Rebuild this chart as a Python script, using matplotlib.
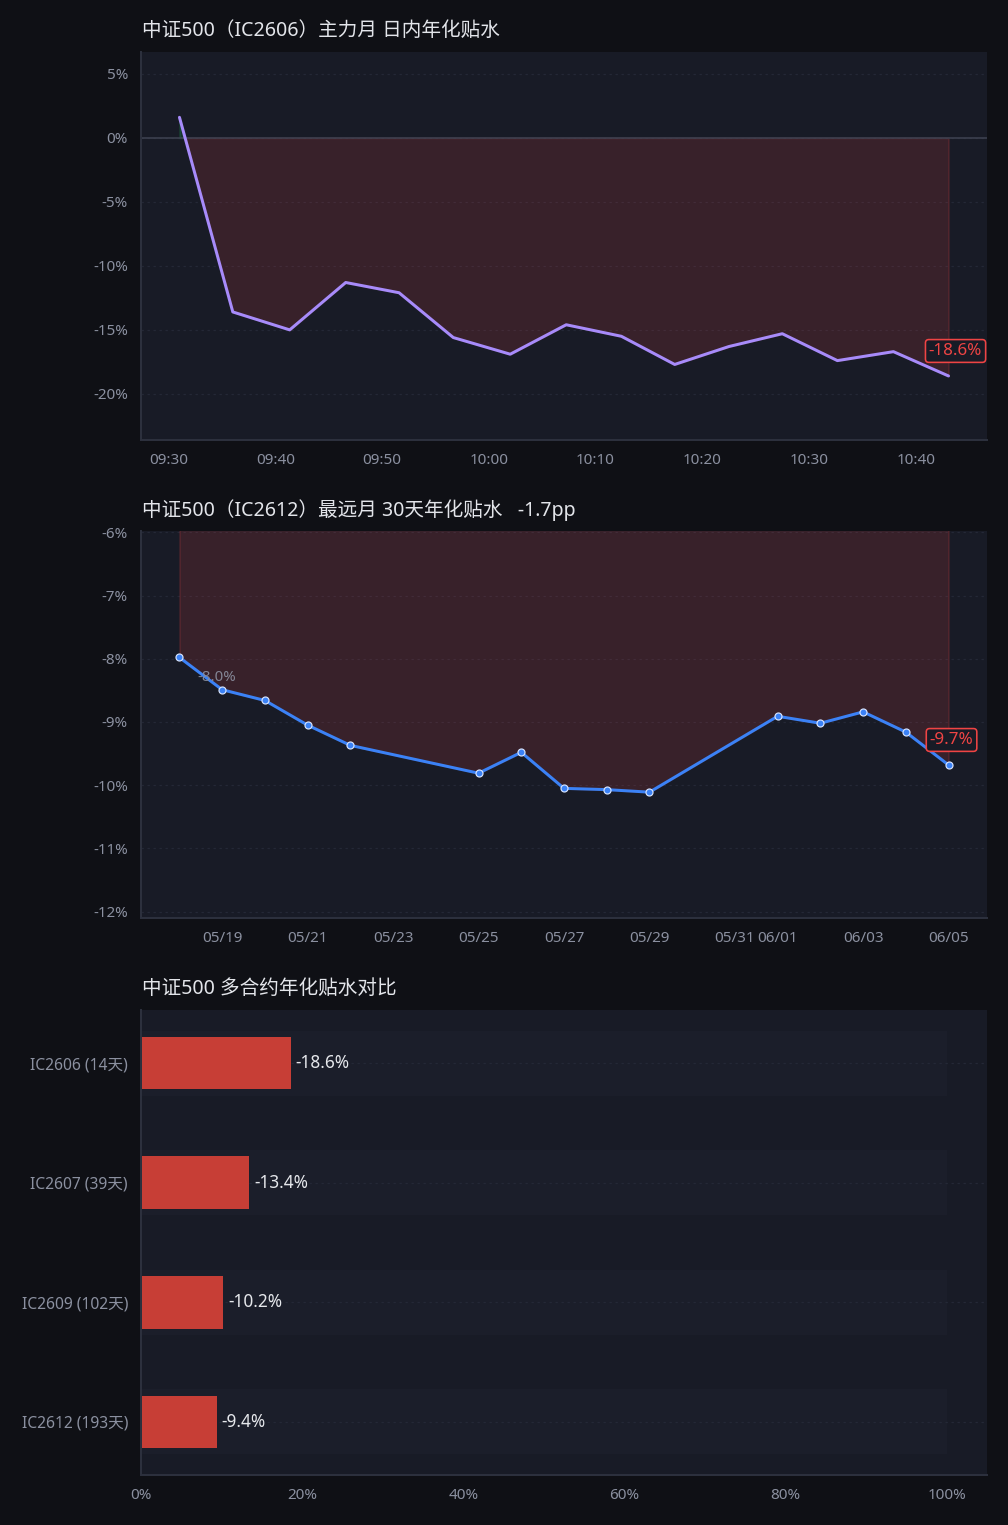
import matplotlib
matplotlib.use("Agg")
import matplotlib.pyplot as plt
import matplotlib.dates as mdates
from matplotlib.ticker import FuncFormatter, MultipleLocator
import pandas as pd
import numpy as np

plt.rcParams['font.family'] = ['Noto Sans', 'Noto Sans CJK SC', 'DejaVu Sans']
plt.rcParams['axes.unicode_minus'] = False

# ---------------- data ----------------
intraday_times = ["09:31:00", "09:36:00", "09:41:20", "09:46:35", "09:51:35",
                  "09:56:40", "10:02:00", "10:07:15", "10:12:25", "10:17:25",
                  "10:22:30", "10:27:30", "10:32:40", "10:37:55", "10:43:05"]
intraday_basis = [1.6, -13.6, -15.0, -11.3, -12.1, -15.6, -16.9, -14.6,
                  -15.5, -17.7, -16.3, -15.3, -17.4, -16.7, -18.6]

daily_dates = ["2026-05-18", "2026-05-19", "2026-05-20", "2026-05-21", "2026-05-22",
               "2026-05-25", "2026-05-26", "2026-05-27", "2026-05-28", "2026-05-29",
               "2026-06-01", "2026-06-02", "2026-06-03", "2026-06-04", "2026-06-05"]
daily_basis = [-7.98, -8.49, -8.66, -9.05, -9.37, -9.81, -9.48, -10.05,
               -10.07, -10.11, -8.91, -9.02, -8.84, -9.16, -9.68]

contracts = ["IC2606 (14天)", "IC2607 (39天)", "IC2609 (102天)", "IC2612 (193天)"]
contract_basis = [-18.6, -13.4, -10.2, -9.4]

title1 = "中证500（IC2606）主力月 日内年化贴水"
title2 = "中证500（IC2612）最远月 30天年化贴水   -1.7pp"
title3 = "中证500 多合约年化贴水对比"

# ---------------- style ----------------
FIG_BG = '#0f1015'
AX_BG = '#181b26'
GRID = '#242836'
SPINE = '#2c303d'
TICK = '#8b90a0'
TITLE = '#e3e5ea'
RED = '#ef4444'
GREEN = '#22c55e'
PURPLE = '#a78bfa'
BLUE = '#3b82f6'
BAR_RED = '#c73e36'

fig = plt.figure(figsize=(7, 1525 / 144), dpi=144, facecolor=FIG_BG)
W, H = 1008, 1525

def add_ax(top, bottom):
    ax = fig.add_axes([141 / W, 1 - bottom / H, 846 / W, (bottom - top) / H])
    ax.set_facecolor(AX_BG)
    for s in ['top', 'right']:
        ax.spines[s].set_visible(False)
    for s in ['left', 'bottom']:
        ax.spines[s].set_color(SPINE)
        ax.spines[s].set_linewidth(1.0)
    ax.tick_params(length=0, pad=6.5, labelsize=7.6, colors=TICK)
    return ax

pct = FuncFormatter(lambda v, p: f"{v:.0f}%")

# ---------------- chart 1 ----------------
ax1 = add_ax(52, 440)
t1 = pd.to_datetime(["2026-06-05 " + t for t in intraday_times])
y1 = np.array(intraday_basis)
ax1.fill_between(t1, y1, 0, where=y1 >= 0, interpolate=True, color=GREEN, alpha=0.15)
ax1.fill_between(t1, y1, 0, where=y1 <= 0, interpolate=True, color=RED, alpha=0.15)
ax1.axhline(0, color='#3d4150', lw=0.8, zorder=1)
ax1.plot(t1, y1, color=PURPLE, lw=1.5, solid_capstyle='round', zorder=3)
ax1.set_ylim(-23.6, 6.7)
ax1.yaxis.set_major_locator(MultipleLocator(5))
ax1.yaxis.set_major_formatter(pct)
ax1.xaxis.set_major_locator(mdates.MinuteLocator(byminute=[0, 10, 20, 30, 40, 50]))
ax1.xaxis.set_major_formatter(mdates.DateFormatter('%H:%M'))
ax1.grid(axis='y', color=GRID, lw=0.6, ls=(0, (2, 3)))
ax1.set_axisbelow(True)
ax1.annotate(f"{intraday_basis[-1]:.1f}%", (t1[-1], y1[-1]), xytext=(3.5, 12.5),
             textcoords='offset points', ha='center', va='center', color=RED, fontsize=8.5,
             bbox=dict(boxstyle='round,pad=0.2', fc=AX_BG, ec=RED, lw=0.8), zorder=5)
fig.text(142 / W, 1 - 31 / H, title1, color=TITLE, fontsize=9.8, ha='left', va='center')

# ---------------- chart 2 ----------------
ax2 = add_ax(531, 918)
t2 = pd.to_datetime(daily_dates)
y2 = np.array(daily_basis)
ax2.fill_between(t2, y2, 0, color=RED, alpha=0.15)
ax2.plot(t2, y2, color=BLUE, lw=1.5, marker='o', ms=3.5, mfc=BLUE, mec='#d6e4ff',
         mew=0.6, zorder=3)
ax2.set_ylim(-12.1, -5.98)
ax2.yaxis.set_major_locator(MultipleLocator(1))
ax2.yaxis.set_major_formatter(pct)
ax2.xaxis.set_major_locator(mdates.DayLocator(bymonthday=range(1, 32, 2)))
ax2.xaxis.set_major_formatter(mdates.DateFormatter('%m/%d'))
ax2.grid(axis='y', color=GRID, lw=0.6, ls=(0, (2, 3)))
ax2.set_axisbelow(True)
ax2.annotate(f"{daily_basis[0]:.1f}%", (t2[0], y2[0]), xytext=(9, -10),
             textcoords='offset points', ha='left', va='center', color=TICK,
             fontsize=7.5, alpha=0.9, zorder=4)
ax2.annotate(f"{daily_basis[-1]:.1f}%", (t2[-1], y2[-1]), xytext=(1.5, 12.5),
             textcoords='offset points', ha='center', va='center', color=RED, fontsize=8.5,
             bbox=dict(boxstyle='round,pad=0.2', fc=AX_BG, ec=RED, lw=0.8), zorder=5)
fig.text(142 / W, 1 - 510 / H, title2, color=TITLE, fontsize=9.8, ha='left', va='center')

# ---------------- chart 3 ----------------
ax3 = add_ax(1010, 1475)
pos = np.arange(len(contracts))
vals = np.abs(contract_basis)
ax3.barh(pos, [100] * len(pos), height=0.545, color='#1b1e2a', zorder=1)
for p in pos:
    ax3.axhline(p, color=GRID, lw=0.6, ls=(0, (2, 3)), zorder=1.5)
ax3.barh(pos, vals, height=0.44, color=BAR_RED, zorder=2)
for p, v, raw in zip(pos, vals, contract_basis):
    ax3.annotate(f"{raw:.1f}%", (v, p), xytext=(2.5, 0), textcoords='offset points',
                 ha='left', va='center', color='#e5e7eb', fontsize=8.6, zorder=3)
ax3.set_yticks(pos)
ax3.set_yticklabels(contracts)
ax3.tick_params(axis='y', labelsize=7.8)
ax3.set_ylim(3.445, -0.445)
ax3.set_xlim(0, 105)
ax3.set_xticks([0, 20, 40, 60, 80, 100])
ax3.xaxis.set_major_formatter(pct)
fig.text(142 / W, 1 - 989 / H, title3, color=TITLE, fontsize=9.8, ha='left', va='center')

fig.savefig("out.png", dpi=144, facecolor=FIG_BG)
